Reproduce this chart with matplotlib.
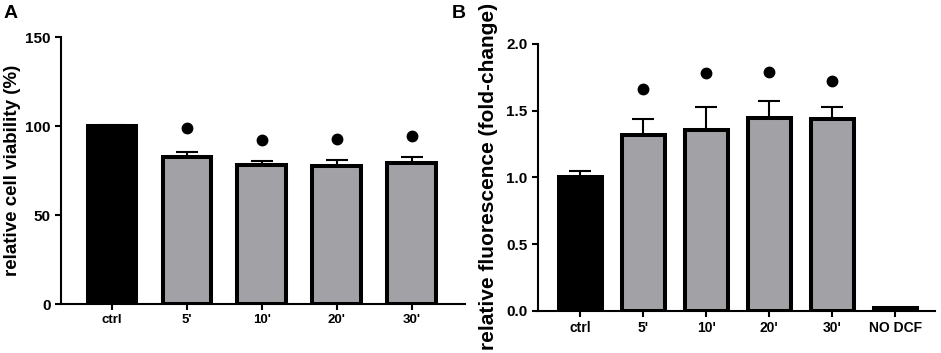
import numpy as np
import matplotlib
matplotlib.use('Agg')
import matplotlib.pyplot as plt

plt.rcParams['font.family'] = ['Liberation Sans', 'DejaVu Sans']
plt.rcParams['font.weight'] = 'bold'

# panel A: cell viability
cats_a = ['ctrl', "5'", "10'", "20'", "30'"]
viab = [100.0, 82.4, 78.1, 77.6, 79.4]
viab_err = [0.6, 3.2, 2.1, 3.1, 3.2]
viab_dots = [99.1, 92.0, 92.5, 94.4]   # significance markers for 5'..30'

# panel B: DCF fluorescence
cats_b = ['ctrl', "5'", "10'", "20'", "30'", 'NO DCF']
fluo = [1.0, 1.315, 1.355, 1.445, 1.44, 0.023]
fluo_err = [0.045, 0.12, 0.17, 0.13, 0.09, 0.0]
fluo_dots = [1.66, 1.78, 1.79, 1.725]

gray = '#a2a2a6'
fig = plt.figure(figsize=(9.41, 3.53), dpi=100)
axA = fig.add_axes([0.0648, 0.1388, 0.4292, 0.7562])
axB = fig.add_axes([0.5717, 0.1198, 0.4219, 0.7556])


def draw(ax, cats, vals, errs, dots, black, width, xfs):
    x = np.arange(len(cats))
    colors = ['black' if c in black else gray for c in cats]
    ax.bar(x, vals, width=width, color=colors, edgecolor='black', linewidth=2.9, zorder=2)
    lower = np.zeros(len(vals))
    ax.errorbar(x, vals, yerr=[lower, errs], fmt='none', ecolor='black',
                elinewidth=1.5, capsize=8, capthick=1.5, zorder=1)
    ax.plot(x[1:1 + len(dots)], dots, 'o', color='black', markersize=7.5, zorder=3)
    ax.set_xticks(x)
    ax.set_xticklabels(cats, fontsize=xfs, fontweight='bold')
    for s in ['top', 'right']:
        ax.spines[s].set_visible(False)
    for s in ['left', 'bottom']:
        ax.spines[s].set_linewidth(1.5)
    ax.tick_params(direction='out', length=4.5, width=1.5, pad=3)
    ax.tick_params(axis='y', labelsize=11)
    for t in ax.get_yticklabels():
        t.set_fontweight('bold')


draw(axA, cats_a, viab, viab_err, viab_dots, ['ctrl'], 0.65, 9.5)
axA.set_xlim(-0.68, 4.71)
axA.set_ylim(0, 150)
axA.set_yticks([0, 50, 100, 150])
for t in axA.get_yticklabels():
    t.set_fontweight('bold')

draw(axB, cats_b, fluo, fluo_err, fluo_dots, ['ctrl', 'NO DCF'], 0.68, 10)
axB.set_xlim(-0.67, 5.63)
axB.set_ylim(0, 2.0)
axB.set_yticks([0, 0.5, 1.0, 1.5, 2.0])
axB.set_yticklabels(['0.0', '0.5', '1.0', '1.5', '2.0'], fontweight='bold')

fig.text(0.0128, 0.518, 'relative cell viability (%)', rotation=90,
         ha='center', va='center', fontsize=13.5, fontweight='bold')
fig.text(0.5186, 0.5014, 'relative fluorescence (fold-change)', rotation=90,
         ha='center', va='center', fontsize=15, fontweight='bold')
fig.text(0.004, 0.985, 'A', ha='left', va='top', fontsize=14, fontweight='bold')
fig.text(0.48, 0.985, 'B', ha='left', va='top', fontsize=14, fontweight='bold')

fig.savefig('out.png', dpi=100)
